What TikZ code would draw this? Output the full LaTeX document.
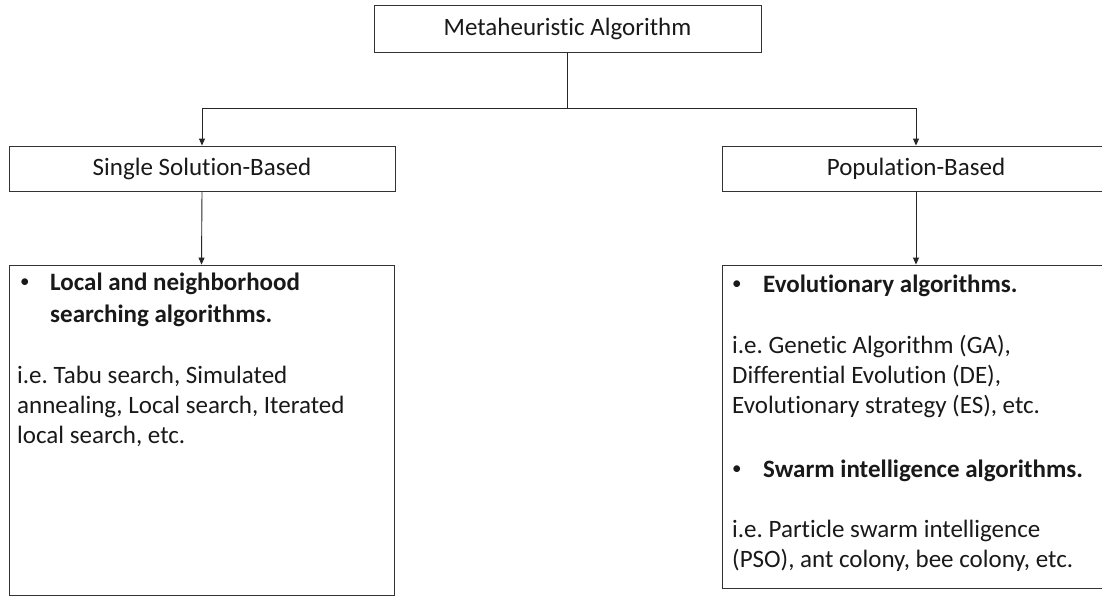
\documentclass[tikz,border=0pt]{standalone}
\usepackage{fontspec}
\setmainfont{Carlito}[Ligatures={NoCommon}]
\usetikzlibrary{arrows.meta}
\frenchspacing
\begin{document}
\begin{tikzpicture}[x=1pt,y=-1pt,
  box/.style={draw=black!80,line width=0.9pt,inner sep=0pt,fill=white},
  arr/.style={draw=black!85,line width=0.9pt,-{Triangle[length=7pt,width=6pt]}},
  txt/.style={anchor=base west,inner sep=0pt,font=\fontsize{25}{30}\selectfont\frenchspacing,text=black!90},
  dot/.style={anchor=base west,inner sep=0pt,font=\fontsize{19}{22}\selectfont,text=black!90},
  head/.style={font=\fontsize{25}{30}\selectfont,text=black!90}]
\clip (0,0) rectangle (1102,597);
\fill[white] (0,0) rectangle (1102,597);

% category boxes
\node[box,minimum width=387pt,minimum height=47pt] (top) at (567.5,28.5) {};
\node[head] (toptxt) at (567.5,28.5) {Metaheuristic Algorithm};
\node[box,minimum width=386pt,minimum height=45pt] (single) at (202,168.5) {};
\node[head] (singletxt) at (202,168.5) {Single Solution-Based};
\node[box,minimum width=388pt,minimum height=45pt] (pop) at (916,168.5) {};
\node[head] (poptxt) at (916,168.5) {Population-Based};

% description boxes
\node[box,minimum width=385pt,minimum height=330pt] (local) at (201.5,430) {};
\node[box,minimum width=388pt,minimum height=323pt] (popdesc) at (916,426.5) {};

% connectors
\coordinate (split) at (567.5,108);
\draw[arr] (top.south) -- (split) -| (single.north);
\draw[arr] (split) -| (pop.north);
\draw[arr] (single.south) -- (local.north);
\draw[arr] (pop.south) -- (popdesc.north);

% single-solution methods
\node[dot] (b1) at (20,287) {•};
\node[txt] (l1) at (50,290) {\bfseries Local and neighborhood};
\node[txt] (l2) at (50,322) {\bfseries searching algorithms.};
\node[txt] (l3) at (17,383) {i.e. Tabu search, Simulated};
\node[txt] (l4) at (17,413) {annealing, Local search, Iterated};
\node[txt] (l5) at (17,443) {local search, etc.};

% population methods
\node[dot] (b2) at (732,289) {•};
\node[txt] (r1) at (763,292) {\bfseries Evolutionary algorithms.};
\node[txt] (r2) at (732,353) {i.e. Genetic Algorithm (GA),};
\node[txt] (r3) at (732,383) {Differential Evolution (DE),};
\node[txt] (r4) at (732,413) {Evolutionary strategy (ES), etc.};
\node[dot] (b3) at (732,474) {•};
\node[txt] (r5) at (763,477) {\bfseries Swarm intelligence algorithms.};
\node[txt] (r6) at (732,537) {i.e. Particle swarm intelligence};
\node[txt] (r7) at (732,567) {(PSO), ant colony, bee colony, etc.};
\end{tikzpicture}
\end{document}
